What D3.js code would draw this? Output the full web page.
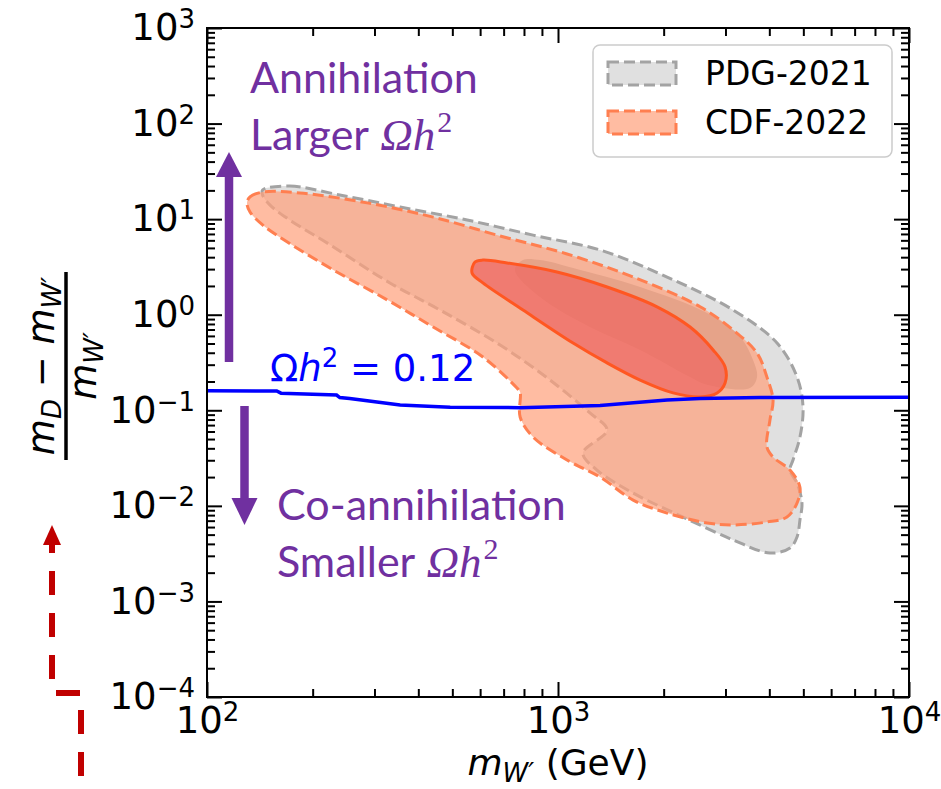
<!DOCTYPE html>
<html>
<head>
<meta charset="utf-8">
<script src="https://cdn.jsdelivr.net/npm/d3@7/dist/d3.min.js"></script>
<style>
    body { margin: 0; background: #fff; }
    svg { display: block; }
</style>
</head>
<body>
<div id="chart"></div>
<script>
// Relic density line, Omega h^2 = 0.12
const relicMass  = [100, 158, 162.5, 234, 239, 255, 286, 355, 493, 780, 1318, 2045, 2540, 3763, 10000];
const relicRatio = [0.160, 0.159, 0.151, 0.1445, 0.136, 0.133, 0.126, 0.1135, 0.1075, 0.1065, 0.112, 0.128, 0.133, 0.136, 0.137];

// PDG-2021 outer region (dashed)
const pdgOuterMass  = [144, 172, 239, 355, 551, 849, 1318, 2045, 3154, 4207, 4797, 4990, 4890, 4673, 4580, 4797, 4955, 4890, 4797, 4580, 4017, 3154, 2270, 1637, 1291, 1178, 1380, 1233, 949, 684, 461, 332, 224, 172, 151, 144];
const pdgOuterRatio = [20.2, 22.2, 17.9, 13.4, 9.8, 6.8, 4.75, 2.48, 1.12, 0.506, 0.223, 0.108, 0.0525, 0.0302, 0.0237, 0.0173, 0.0107, 0.00711, 0.00472, 0.00362, 0.00321, 0.0044, 0.00764, 0.0136, 0.0237, 0.0357, 0.0622, 0.0937, 0.207, 0.482, 1.12, 2.15, 5.4, 9.8, 14.1, 17.9];

// PDG-2021 inner region
const pdgInnerMass  = [795, 754, 889, 1233, 1714, 2379, 2660, 3524, 3690, 3594, 3303, 2660, 1714, 1104, 889];
const pdgInnerRatio = [3.73, 2.94, 1.53, 0.743, 0.428, 0.223, 0.185, 0.171, 0.223, 0.336, 0.585, 1.04, 1.95, 3.08, 3.73];

// CDF-2022 outer region (dashed)
const cdfOuterMass  = [130, 132.6, 144, 184, 286, 441, 684, 1061, 1637, 2540, 3154, 3690, 3937, 4099, 4017, 3937, 4099, 4580, 4890, 4797, 4491, 3937, 3154, 2660, 2045, 1637, 1318, 1061, 849, 780, 780, 764, 611, 441, 326, 229, 169, 144, 132.6];
const cdfOuterRatio = [14.8, 17.1, 19.2, 18.8, 14.8, 10.5, 6.67, 4.32, 2.48, 1.21, 0.692, 0.397, 0.223, 0.128, 0.0791, 0.0413, 0.0324, 0.0237, 0.0157, 0.0107, 0.00764, 0.00678, 0.00631, 0.00662, 0.0084, 0.0115, 0.0200, 0.0302, 0.0525, 0.0851, 0.155, 0.171, 0.361, 0.743, 1.43, 2.94, 5.8, 8.7, 11.9];

// CDF-2022 inner region (solid)
const cdfInnerMass  = [580, 569, 611, 795, 1104, 1380, 1714, 2128, 2540, 2840, 2992, 2992, 2767, 2379, 1915, 1380, 993, 716, 611];
const cdfInnerRatio = [3.56, 2.73, 2.15, 1.12, 0.506, 0.313, 0.207, 0.152, 0.138, 0.152, 0.193, 0.284, 0.428, 0.743, 1.21, 1.95, 2.80, 3.48, 3.73];

// Axis ticks
const xMajor = [1e2, 1e3, 1e4];
const yMajor = [1e-4, 1e-3, 1e-2, 1e-1, 1e0, 1e1, 1e2, 1e3];
const legendLabels = ["PDG-2021", "CDF-2022"];

const width = 941, height = 789;
const margin = { top: 28, right: 32, bottom: 92, left: 207 };
const plotW = width - margin.left - margin.right;
const plotH = height - margin.top - margin.bottom;
const FONT = "'DejaVu Sans', sans-serif";

const svg = d3.select("#chart").append("svg")
    .attr("width", width)
    .attr("height", height);

const g = svg.append("g")
    .attr("transform", "translate(" + margin.left + "," + margin.top + ")");

const x = d3.scaleLog().domain([1e2, 1e4]).range([0, plotW]);
const y = d3.scaleLog().domain([1e-4, 1e3]).range([plotH, 0]);

// minor ticks 2..9 in every decade
function minors(lo, hi) {
    const out = [];
    for (let e = lo; e < hi; e++) {
        for (let k = 2; k <= 9; k++) out.push(k * Math.pow(10, e));
    }
    return out;
}
const xMinor = minors(2, 4);
const yMinor = minors(-4, 3);

const zip = (ms, rs) => ms.map((m, i) => [m, rs[i]]);
const blob = d3.line()
    .x(d => x(d[0]))
    .y(d => y(d[1]))
    .curve(d3.curveCatmullRomClosed.alpha(0.5));

// PDG regions
g.append("path")
    .attr("d", blob(zip(pdgOuterMass, pdgOuterRatio)))
    .attr("fill", "#e0e0e0")
    .attr("stroke", "#a3a3a3")
    .attr("stroke-width", 3)
    .attr("stroke-dasharray", "11,5");

g.append("path")
    .attr("d", blob(zip(pdgInnerMass, pdgInnerRatio)))
    .attr("fill", "#aaaaaa");

// CDF regions
g.append("path")
    .attr("d", blob(zip(cdfOuterMass, cdfOuterRatio)))
    .attr("fill", "#ffa07a")
    .attr("fill-opacity", 0.7)
    .attr("stroke", "#ff7f50")
    .attr("stroke-width", 3)
    .attr("stroke-dasharray", "11,5");

g.append("path")
    .attr("d", blob(zip(cdfInnerMass, cdfInnerRatio)))
    .attr("fill", "#ee645f")
    .attr("fill-opacity", 0.7)
    .attr("stroke", "#ff5722")
    .attr("stroke-width", 3);

// relic line
const relicLine = d3.line().x(d => x(d[0])).y(d => y(d[1]));
g.append("path")
    .attr("d", relicLine(zip(relicMass, relicRatio)))
    .attr("fill", "none")
    .attr("stroke", "#0000ff")
    .attr("stroke-width", 3.5);

// axes
function powerLabels(sel) {
    sel.selectAll(".tick text").each(function(d) {
        const e = Math.round(Math.log10(d));
        const t = d3.select(this).text(null);
        t.append("tspan").text("10");
        t.append("tspan")
            .attr("font-size", 26)
            .attr("dy", -12)
            .text(e < 0 ? "\u2212" + (-e) : e);
    });
}
function styleAxis(sel) {
    sel.select(".domain").remove();
    sel.attr("font-family", FONT).attr("font-size", 37);
    sel.selectAll(".tick line").attr("stroke", "#000").attr("stroke-width", 2);
    sel.selectAll(".tick text").attr("fill", "#000");
}

g.append("g")
    .attr("transform", "translate(0," + plotH + ")")
    .call(d3.axisBottom(x).tickValues(xMajor).tickSizeInner(-15).tickSizeOuter(0).tickPadding(10))
    .call(styleAxis)
    .call(powerLabels);
g.append("g").attr("transform", "translate(0," + plotH + ")")
    .call(d3.axisBottom(x).tickValues(xMinor).tickSizeInner(-8).tickSizeOuter(0).tickFormat(""))
    .call(styleAxis);
g.append("g")
    .call(d3.axisTop(x).tickValues(xMajor).tickSizeInner(-15).tickSizeOuter(0).tickFormat(""))
    .call(styleAxis);
g.append("g")
    .call(d3.axisTop(x).tickValues(xMinor).tickSizeInner(-8).tickSizeOuter(0).tickFormat(""))
    .call(styleAxis);

g.append("g")
    .call(d3.axisLeft(y).tickValues(yMajor).tickSizeInner(-15).tickSizeOuter(0).tickPadding(12))
    .call(styleAxis)
    .call(powerLabels);
g.append("g")
    .call(d3.axisLeft(y).tickValues(yMinor).tickSizeInner(-8).tickSizeOuter(0).tickFormat(""))
    .call(styleAxis);
g.append("g").attr("transform", "translate(" + plotW + ",0)")
    .call(d3.axisRight(y).tickValues(yMajor).tickSizeInner(-15).tickSizeOuter(0).tickFormat(""))
    .call(styleAxis);
g.append("g").attr("transform", "translate(" + plotW + ",0)")
    .call(d3.axisRight(y).tickValues(yMinor).tickSizeInner(-8).tickSizeOuter(0).tickFormat(""))
    .call(styleAxis);

g.append("rect")
    .attr("width", plotW)
    .attr("height", plotH)
    .attr("fill", "none")
    .attr("stroke", "#000")
    .attr("stroke-width", 2);

// axis titles
const xTitle = svg.append("text")
    .attr("x", margin.left + plotW / 2)
    .attr("y", 775)
    .attr("text-anchor", "middle")
    .attr("font-family", FONT)
    .attr("font-size", 36);
xTitle.append("tspan").attr("font-style", "italic").text("m");
xTitle.append("tspan").attr("font-style", "italic").attr("font-size", 26).attr("dy", 7).text("W\u2032");
xTitle.append("tspan").attr("dy", -7).text(" (GeV)");

const yTitle = svg.append("g")
    .attr("transform", "translate(66,366) rotate(-90)")
    .attr("font-family", FONT)
    .attr("font-size", 37);
const num = yTitle.append("text").attr("text-anchor", "middle").attr("y", -12);
num.append("tspan").attr("font-style", "italic").text("m");
num.append("tspan").attr("font-style", "italic").attr("font-size", 26).attr("dy", 7).text("D");
num.append("tspan").attr("dy", -7).text(" \u2212 ");
num.append("tspan").attr("font-style", "italic").text("m");
num.append("tspan").attr("font-style", "italic").attr("font-size", 26).attr("dy", 7).text("W\u2032");
yTitle.append("line")
    .attr("x1", -94).attr("x2", 94)
    .attr("stroke", "#000").attr("stroke-width", 3.5);
const den = yTitle.append("text").attr("text-anchor", "middle").attr("y", 30);
den.append("tspan").attr("font-style", "italic").text("m");
den.append("tspan").attr("font-style", "italic").attr("font-size", 26).attr("dy", 7).text("W\u2032");

// relic label
const relicText = svg.append("text")
    .attr("x", 270).attr("y", 381)
    .attr("font-family", FONT)
    .attr("font-size", 37)
    .attr("fill", "#0000ff");
relicText.append("tspan").text("\u03A9");
relicText.append("tspan").attr("font-style", "italic").text("h");
relicText.append("tspan").attr("font-size", 26).attr("dy", -14).text("2");
relicText.append("tspan").attr("dy", 14).text(" = 0.12");

// purple annotations
const PURPLE = "#7030a0";
function purpleText(px, py, word, withOmega) {
    const t = svg.append("text")
        .attr("x", px).attr("y", py)
        .attr("font-family", "Lato, 'Open Sans', sans-serif")
        .attr("font-size", 43)
        .attr("fill", PURPLE)
        .text(word);
    if (withOmega) {
        t.append("tspan").attr("font-family", "'Liberation Serif', serif").attr("font-style", "italic").attr("font-size", 45).text(" \u03A9h");
        t.append("tspan").attr("font-family", "'Liberation Serif', serif").attr("font-size", 30).attr("dx", 2).attr("dy", -18).text("2");
    }
}
purpleText(250, 93, "Annihilation", false);
purpleText(250, 150, "Larger", true);
purpleText(277, 520, "Co-annihilation", false);
purpleText(277, 577, "Smaller", true);

// up arrow
svg.append("line").attr("x1", 229).attr("x2", 229).attr("y1", 362).attr("y2", 175)
    .attr("stroke", PURPLE).attr("stroke-width", 8.5);
svg.append("path").attr("d", "M216,177 L242,177 L229,152 Z").attr("fill", PURPLE);
// down arrow
svg.append("line").attr("x1", 244.5).attr("x2", 244.5).attr("y1", 406).attr("y2", 500)
    .attr("stroke", PURPLE).attr("stroke-width", 8.5);
svg.append("path").attr("d", "M231.5,498 L257.5,498 L244.5,525 Z").attr("fill", PURPLE);

// stray red dashed connector at lower left
svg.append("path")
    .attr("d", "M81,789 V693 H52 V545")
    .attr("fill", "none")
    .attr("stroke", "#c00000")
    .attr("stroke-width", 6)
    .attr("stroke-dasharray", "24,18")
    .attr("stroke-dashoffset", 29);
svg.append("path").attr("d", "M43,545 L61,545 L52,525 Z").attr("fill", "#c00000");

// legend
const legend = svg.append("g").attr("font-family", FONT).attr("font-size", 33);
legend.append("rect")
    .attr("x", 593).attr("y", 45)
    .attr("width", 299).attr("height", 112)
    .attr("rx", 7)
    .attr("fill", "#fff").attr("fill-opacity", 0.8)
    .attr("stroke", "#cccccc").attr("stroke-width", 1.5);
const legendStyles = [
    { fill: "#e0e0e0", opacity: 1, stroke: "#a3a3a3" },
    { fill: "#ffa07a", opacity: 0.7, stroke: "#ff7f50" }
];
legendLabels.forEach((label, i) => {
    const row = legend.append("g").attr("transform", "translate(0," + (i * 49) + ")");
    row.append("rect")
        .attr("x", 608).attr("y", 62)
        .attr("width", 68).attr("height", 23)
        .attr("fill", legendStyles[i].fill)
        .attr("fill-opacity", legendStyles[i].opacity)
        .attr("stroke", legendStyles[i].stroke)
        .attr("stroke-width", 3)
        .attr("stroke-dasharray", "11,5");
    row.append("text")
        .attr("x", 705).attr("y", 85)
        .text(label);
});
</script>
</body>
</html>
